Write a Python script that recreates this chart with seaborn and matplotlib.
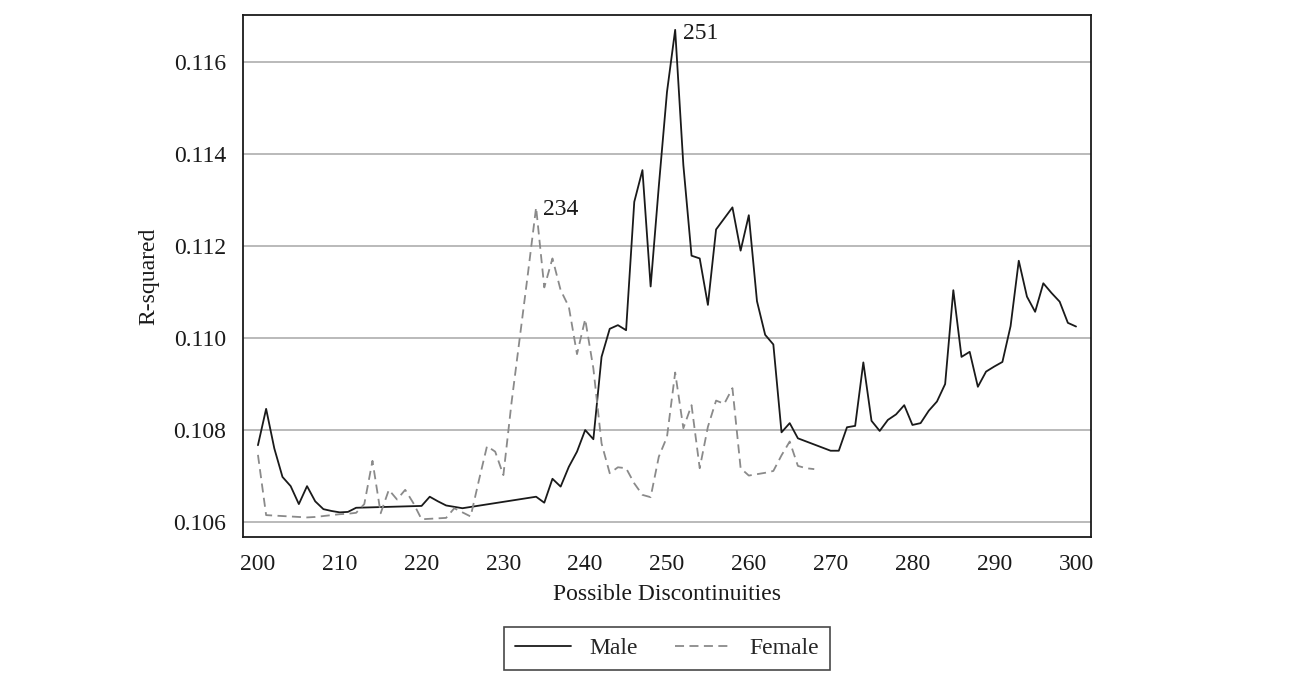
#%% Packages
import numpy as np
import pandas as pd
import matplotlib
matplotlib.use("Agg")
import matplotlib.pyplot as plt
from matplotlib.lines import Line2D
import seaborn as sns

#%% Data
male_x = [200, 201, 202, 203, 204, 205, 206, 207, 208, 209, 210, 211, 212,
          220, 221, 222, 223, 224, 225,
          234, 235, 236, 237, 238, 239, 240, 241, 242, 243, 244, 245, 246, 247,
          248, 249, 250, 251, 252, 253, 254, 255, 256, 257, 258, 259, 260, 261,
          262, 263, 264, 265, 266,
          270, 271, 272, 273, 274, 275, 276, 277, 278, 279, 280, 281, 282, 283,
          284, 285, 286, 287, 288, 289, 290, 291, 292, 293, 294, 295, 296, 297,
          298, 299, 300]
male_r2 = [0.10767, 0.10846, 0.10760, 0.10698, 0.10678, 0.10639, 0.10678,
           0.10645, 0.10628, 0.10624, 0.10621, 0.10622, 0.10631,
           0.10635, 0.10655, 0.10645, 0.10636, 0.10633, 0.10630,
           0.10655, 0.10642, 0.10694, 0.10677, 0.10720, 0.10753, 0.10800,
           0.10780, 0.10959, 0.11020, 0.11028, 0.11017, 0.11296, 0.11365,
           0.11112, 0.11330, 0.11535, 0.11670, 0.11376, 0.11179, 0.11173,
           0.11072, 0.11236, 0.11260, 0.11284, 0.11190, 0.11267, 0.11080,
           0.11007, 0.10986, 0.10795, 0.10815, 0.10782,
           0.10755, 0.10755, 0.10806, 0.10809, 0.10947, 0.10820, 0.10798,
           0.10822, 0.10834, 0.10854, 0.10811, 0.10815, 0.10842, 0.10862,
           0.10900, 0.11104, 0.10959, 0.10970, 0.10894, 0.10927, 0.10938,
           0.10948, 0.11026, 0.11168, 0.11090, 0.11057, 0.11119, 0.11098,
           0.11079, 0.11033, 0.11025]

female_x = list(range(200, 269))
female_r2 = [0.10746, 0.10615, 0.10614, 0.10613, 0.10612, 0.10611, 0.10610,
             0.10611, 0.10613, 0.10615, 0.10617, 0.10618, 0.10620, 0.10639,
             0.10733, 0.10619, 0.10670, 0.10649, 0.10670, 0.10641, 0.10606,
             0.10607, 0.10608, 0.10609, 0.10630, 0.10621, 0.10612, 0.10690,
             0.10765, 0.10753, 0.10702, 0.10860, 0.11000, 0.11140, 0.11284,
             0.11110, 0.11173, 0.11104, 0.11068, 0.10965, 0.11041, 0.10934,
             0.10771, 0.10706, 0.10719, 0.10717, 0.10684, 0.10659, 0.10654,
             0.10742, 0.10785, 0.10925, 0.10804, 0.10854, 0.10717, 0.10807,
             0.10864, 0.10857, 0.10891, 0.10717, 0.10701, 0.10704, 0.10707,
             0.10711, 0.10745, 0.10775, 0.10722, 0.10717, 0.10715]

x_ticks = list(range(200, 301, 10))
y_ticks = [0.106, 0.108, 0.110, 0.112, 0.114, 0.116]

male = pd.DataFrame({"disc": male_x, "r2": male_r2})
female = pd.DataFrame({"disc": female_x, "r2": female_r2})

#%% Style
sns.set_style("white")
plt.rcParams["font.family"] = ["Liberation Serif", "DejaVu Serif"]

#%% Plot
fig = plt.figure(figsize=(12.89, 6.79), dpi=100)
ax = fig.add_axes([0.1885, 0.2091, 0.6579, 0.7688])

sns.lineplot(data=male, x="disc", y="r2", ax=ax, color="#1a1a1a", lw=1.3)
sns.lineplot(data=female, x="disc", y="r2", ax=ax, color="#8a8a8a", lw=1.3,
             linestyle=(0, (5, 3)))

# peak labels
ax.text(251.9, male_r2[male_x.index(251)] - 0.00007, "251", fontsize=17,
        ha="left", va="center", color="#1a1a1a")
ax.text(234.9, female_r2[female_x.index(234)] - 0.00005, "234", fontsize=17,
        ha="left", va="center", color="#1a1a1a")

ax.set_xlim(198.17, 301.83)
ax.set_ylim(0.105674, 0.117022)
ax.set_xticks(x_ticks)
ax.set_yticks(y_ticks)
ax.set_yticklabels([f"{v:.3f}" for v in y_ticks])
ax.tick_params(axis="both", direction="out", length=7, width=1.2,
               color="#1a1a1a", labelsize=17, labelcolor="#1a1a1a", pad=5)
ax.yaxis.grid(True, color="#b4b4b4", lw=1.3)
ax.xaxis.grid(False)
for s in ax.spines.values():
    s.set_visible(True)
    s.set_color("#1a1a1a")
    s.set_linewidth(1.3)

ax.set_xlabel("Possible Discontinuities", fontsize=17, color="#1a1a1a", labelpad=7)
ax.set_ylabel("R-squared", fontsize=17, color="#1a1a1a", labelpad=10)

handles = [Line2D([], [], color="#1a1a1a", lw=1.3),
           Line2D([], [], color="#8a8a8a", lw=1.3, linestyle=(0, (5, 3)))]
leg = ax.legend(handles, ["Male", "Female"], ncol=2, loc="center",
                bbox_to_anchor=(0.5, -0.2136), fontsize=17, frameon=True,
                fancybox=False, edgecolor="#1a1a1a", handlelength=2.4,
                handletextpad=0.75, columnspacing=1.6, borderpad=0.45)
leg.get_frame().set_linewidth(1.2)

fig.savefig("out.png", dpi=100, facecolor="white")
